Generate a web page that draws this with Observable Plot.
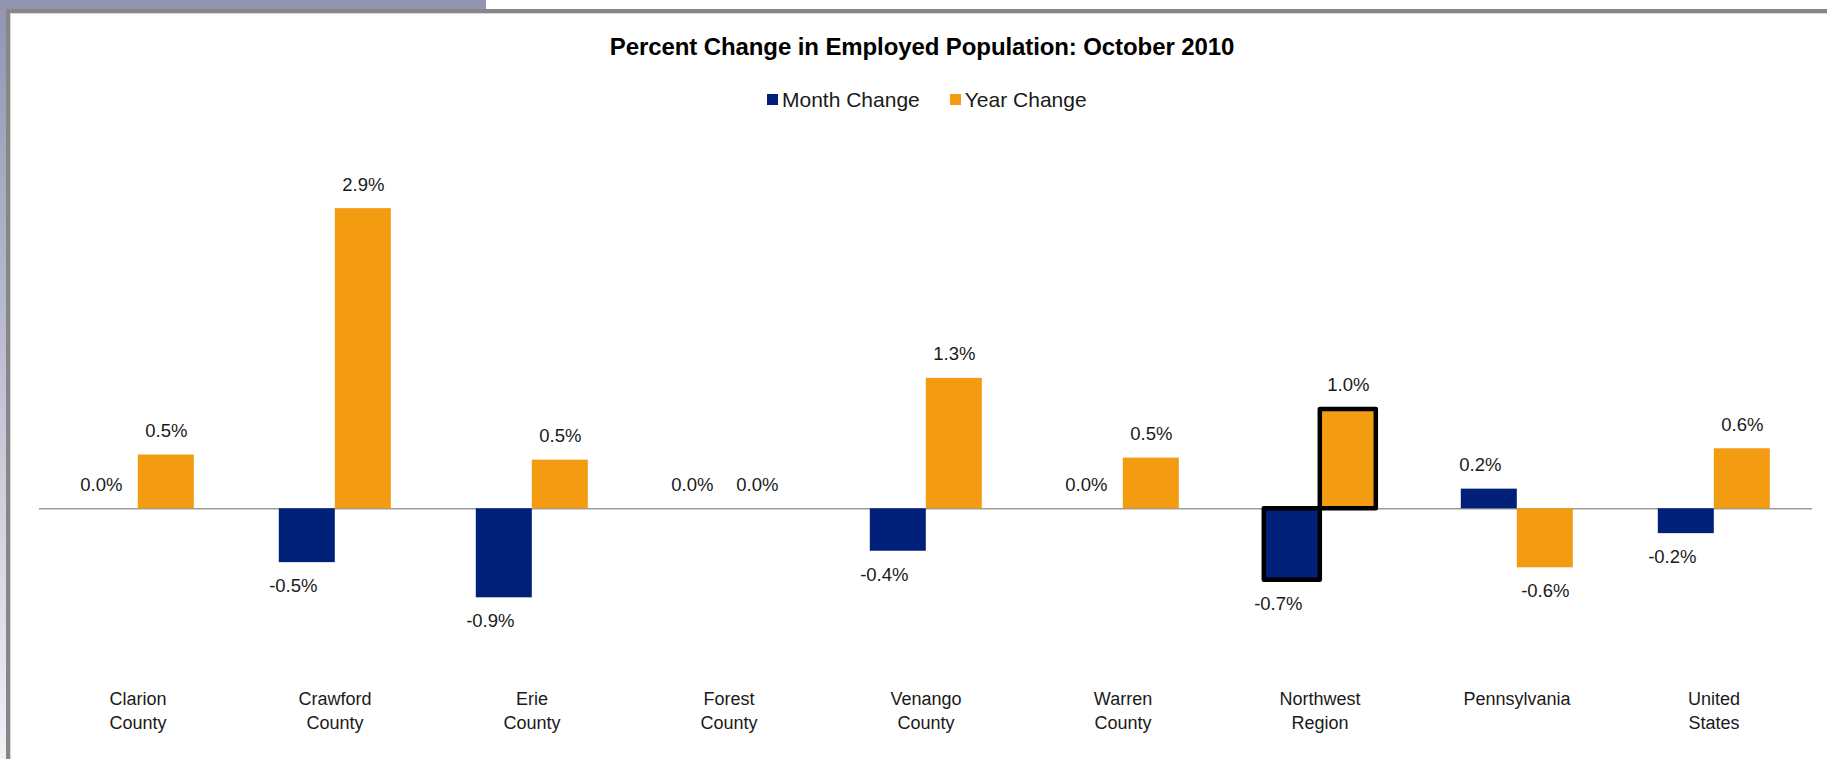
<!DOCTYPE html>
<html>
<head>
<meta charset="utf-8">
<script src="https://cdn.jsdelivr.net/npm/d3@7"></script>
<script src="https://cdn.jsdelivr.net/npm/@observablehq/plot@0.6"></script>
<style>
  html, body { margin: 0; padding: 0; width: 1827px; height: 759px; overflow: hidden; background: #ffffff; font-family: "Liberation Sans", Arial, sans-serif; }
  #topstrip { position: absolute; left: 0; top: 0; width: 486px; height: 10px; background: #9195b1; }
  #leftstrip { position: absolute; left: 0; top: 0; width: 6px; height: 759px; background: linear-gradient(#9195b1, #f0f0f5); }
  #frame { position: absolute; left: 6px; top: 9px; right: 0; bottom: -10px; border-left: 4px solid #878787; border-top: 4px solid #878787; background: #ffffff; box-shadow: inset 1px 1px 0 #d8d8d8; }
  #title { position: absolute; left: 0; width: 1844px; top: 35px; text-align: center; font-weight: bold; font-size: 24px; line-height: 24px; color: #000; letter-spacing: -0.1px; }
  #legend { position: absolute; left: 767px; top: 89px; height: 21px; display: flex; align-items: center; font-size: 21px; line-height: 21px; color: #1a1a1a; }
  #legend .item { display: flex; align-items: center; margin-right: 30px; }
  #legend .sw { width: 11px; height: 11px; margin-right: 4px; }
  #chart { position: absolute; left: 10px; top: 130px; }
</style>
</head>
<body>
<div id="topstrip"></div>
<div id="leftstrip"></div>
<div id="frame"></div>
<div id="title">Percent Change in Employed Population: October 2010</div>
<div id="legend"></div>
<div id="chart"></div>
<script>
const categories = ["Clarion County", "Crawford County", "Erie County", "Forest County", "Venango County", "Warren County", "Northwest Region", "Pennsylvania", "United States"];
const tickLabels = ["Clarion\nCounty", "Crawford\nCounty", "Erie\nCounty", "Forest\nCounty", "Venango\nCounty", "Warren\nCounty", "Northwest\nRegion", "Pennsylvania", "United\nStates"];
const series = ["Month Change", "Year Change"];
const monthChange = [0.0, -0.52, -0.86, 0.0, -0.41, 0.0, -0.69, 0.19, -0.24];
const yearChange = [0.52, 2.9, 0.47, 0.0, 1.26, 0.49, 0.96, -0.57, 0.58];
const seriesColors = ["#00207a", "#f39c12"];
const highlighted = "Northwest Region";

const values = [monthChange, yearChange];
const data = [];
categories.forEach((c, i) => {
  series.forEach((s, j) => data.push({category: c, series: s, value: values[j][i]}));
});

// legend
const legend = document.getElementById("legend");
series.forEach((s, j) => {
  const item = document.createElement("div");
  item.className = "item";
  const sw = document.createElement("div");
  sw.className = "sw";
  sw.style.background = seriesColors[j];
  const t = document.createElement("span");
  t.textContent = s;
  item.appendChild(sw);
  item.appendChild(t);
  legend.appendChild(item);
});

const fmt = d => d.value.toFixed(1) + "%";
const zeroY = 378.3, k = 103.5;
const labelStyle = {fx: "category", x: "series", y: "value", text: fmt, fontSize: 18.5, fill: "#1a1a1a"};
const isMonth = d => d.series === series[0];

const plot = Plot.plot({
  width: 1817,
  height: 629,
  marginLeft: 28.2,
  marginRight: 14.3,
  marginTop: 0,
  marginBottom: 69,
  style: {background: "transparent", fontFamily: "'Liberation Sans', Arial, sans-serif", color: "#1a1a1a"},
  fx: {domain: categories, padding: 0, label: null},
  x: {domain: series, paddingInner: 0, paddingOuter: 0.7435, axis: null},
  y: {domain: [-1, 3], range: [zeroY + 1 * k, zeroY - 3 * k], axis: null},
  color: {domain: series, range: seriesColors},
  marks: [
    Plot.ruleY([0], {stroke: "#9c9c9c", strokeWidth: 1.5}),
    Plot.barY(data, {fx: "category", x: "series", y: "value", fill: "series"}),
    Plot.barY(data, {filter: d => d.category === highlighted, fx: "category", x: "series", y: "value", fill: "series", stroke: "#000", strokeWidth: 4.5, strokeLinejoin: "round"}),
    Plot.text(data, {...labelStyle, filter: d => d.value >= 0 && !isMonth(d), dy: -24}),
    Plot.text(data, {...labelStyle, filter: d => d.value < 0 && !isMonth(d), dy: 23.5}),
    Plot.text(data, {...labelStyle, filter: d => d.value >= 0 && isMonth(d), dy: -24, dx: -9}),
    Plot.text(data, {...labelStyle, filter: d => d.value < 0 && isMonth(d), dy: 23.5, dx: -14}),
    Plot.axisFx({anchor: "bottom", tickSize: 0, tickPadding: -2, fontSize: 18, lineHeight: 1.3, label: null, tickFormat: d => tickLabels[categories.indexOf(d)]})
  ]
});
document.getElementById("chart").appendChild(plot);
</script>
</body>
</html>
